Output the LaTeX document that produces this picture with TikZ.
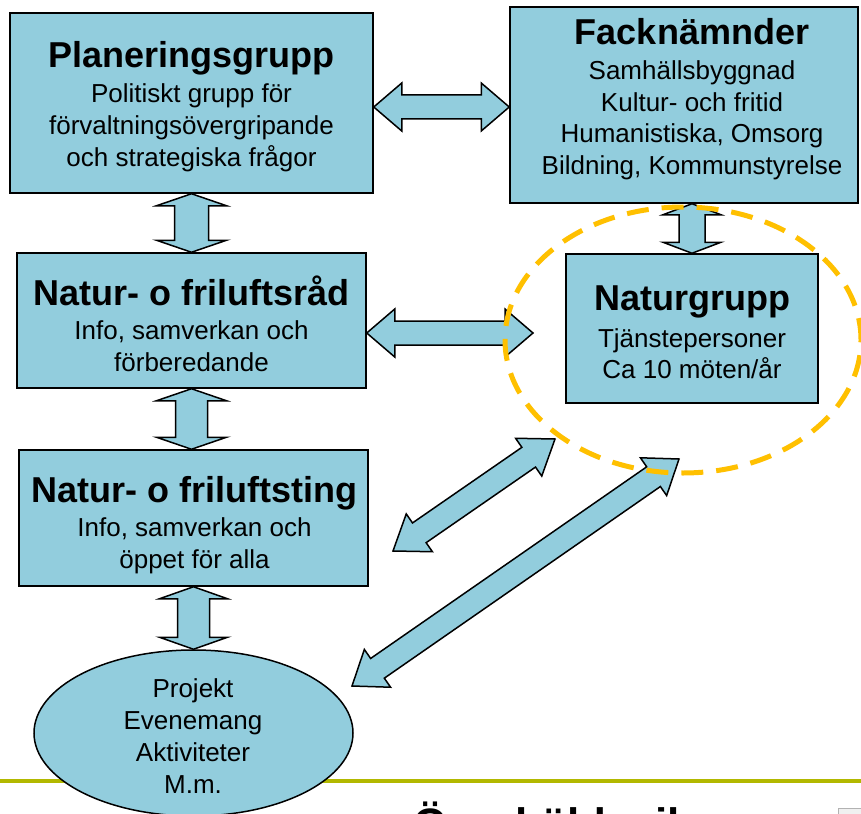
\documentclass[tikz,border=0pt]{standalone}
\usepackage{fontspec}
\setmainfont{Liberation Sans}
\usetikzlibrary{calc,shapes.geometric}
\definecolor{boxblue}{RGB}{146,205,221}
\definecolor{dashorange}{RGB}{255,192,0}
\definecolor{linegreen}{RGB}{178,184,0}
% #2 start, #3 end, #4 half head width, #5 half shaft width, #6 head length
\newcommand\blockarr[6][]{%
  \coordinate (ba1) at ($(#2)!#6!(#3)$);
  \coordinate (ba2) at ($(#3)!#6!(#2)$);
  \draw[barrow,#1] (#2) -- ($(ba1)!#4!90:(#3)$) -- ($(ba1)!#5!90:(#3)$)
    -- ($(ba2)!#5!-90:(#2)$) -- ($(ba2)!#4!-90:(#2)$) -- (#3)
    -- ($(ba2)!#4!90:(#2)$) -- ($(ba2)!#5!90:(#2)$)
    -- ($(ba1)!#5!-90:(#3)$) -- ($(ba1)!#4!-90:(#3)$) -- cycle;%
}
\begin{document}
\begin{tikzpicture}[x=1pt,y=-1pt,
  box/.style={draw=black, line width=1.5pt, fill=boxblue, inner sep=0pt, rectangle},
  ovalbox/.style={draw=black, line width=1.5pt, fill=boxblue, inner sep=0pt, ellipse},
  ttl/.style={font=\fontsize{36}{40}\selectfont\bfseries, anchor=base, inner sep=0pt},
  sub/.style={font=\fontsize{26}{32}\selectfont, anchor=base, inner sep=0pt},
  barrow/.style={draw=black, line width=1.5pt, fill=boxblue, line join=miter},
  dashring/.style={draw=dashorange, line width=5pt, dash pattern=on 22pt off 13pt, ellipse, inner sep=0pt}
]
\useasboundingbox (0,0) rectangle (861,813);
\begin{scope}
\clip (0,0) rectangle (861,813);
\fill[white] (0,0) rectangle (861,813);

% footer line and logo
\draw[linegreen, line width=4pt] (0,781) -- (861,781);
\node[anchor=base west, font=\fontsize{44}{44}\selectfont\bfseries, inner sep=0pt] (logo) at (413,839) {Örnsköldsvik};
\node[draw=gray!60, fill=gray!12, line width=1pt, minimum width=30pt, minimum height=20pt, anchor=north west] (icon) at (838,808) {};

% boxes
\node[box, minimum width=363pt, minimum height=180pt] (plan) at (191.5,103) {};
\node[box, minimum width=348pt, minimum height=196pt] (fack) at (684,105) {};
\node[box, minimum width=349pt, minimum height=135pt] (rad) at (191.5,320.5) {};
\node[box, minimum width=349pt, minimum height=136pt] (ting) at (193.5,518) {};
\node[box, minimum width=252pt, minimum height=149pt] (natur) at (692,328.5) {};
\node[ovalbox, minimum width=319pt, minimum height=166pt] (proj) at (193.5,733) {};

% texts
\node[ttl] (planT) at (191.5,68) {Planeringsgrupp};
\node[sub] (planA) at (191.5,103) {Politiskt grupp för};
\node[sub] (planB) at (191.5,135) {förvaltningsövergripande};
\node[sub] (planC) at (191.5,167) {och strategiska frågor};

\node[ttl] (fackT) at (692,45) {Facknämnder};
\node[sub] (fackA) at (692,80) {Samhällsbyggnad};
\node[sub] (fackB) at (692,112) {Kultur- och fritid};
\node[sub] (fackC) at (692,143) {Humanistiska, Omsorg};
\node[sub] (fackD) at (692,175) {Bildning, Kommunstyrelse};

\node[ttl] (radT) at (191.5,305) {Natur- o friluftsråd};
\node[sub] (radA) at (191.5,339) {Info, samverkan och};
\node[sub] (radB) at (191.5,371) {förberedande};

\node[ttl] (tingT) at (194.5,502) {Natur- o friluftsting};
\node[sub] (tingA) at (194.5,536) {Info, samverkan och};
\node[sub] (tingB) at (194.5,568) {öppet för alla};

\node[ttl] (naturT) at (692,310) {Naturgrupp};
\node[sub] (naturA) at (692,347) {Tjänstepersoner};
\node[sub] (naturB) at (692,378) {Ca 10 möten/år};

\node[sub] (projA) at (193,697) {Projekt};
\node[sub] (projB) at (193,729) {Evenemang};
\node[sub] (projC) at (193,761) {Aktiviteter};
\node[sub] (projD) at (193,793) {M.m.};

% connector end points
\coordinate (h1a) at (plan.east |- 0,107);
\coordinate (h1b) at (fack.west |- 0,107);
\coordinate (m2b) at (533,333);
\coordinate (m2a) at (rad.east |- m2b);
\coordinate (v2b) at (rad.south |- ting.north);
\coordinate (v3a) at (ting.south -| proj.north);
\coordinate (v4a) at (natur.north |- fack.south);
\coordinate (d1a) at (393,551);
\coordinate (d1b) at (555,439);
\coordinate (d2a) at (352,686);
\coordinate (d2b) at (679,459);

% block arrows
\blockarr{plan.south}{rad.north}{35pt}{17pt}{12pt}
\blockarr{rad.south}{v2b}{35pt}{16pt}{12pt}
\blockarr{v3a}{proj.north}{34pt}{16pt}{12pt}
\blockarr{v4a}{natur.north}{29pt}{13pt}{11pt}
\blockarr{h1a}{h1b}{24pt}{12pt}{28pt}
\blockarr{m2a}{m2b}{24pt}{12pt}{28pt}
\blockarr{d1a}{d1b}{23pt}{12pt}{32pt}
\blockarr{d2a}{d2b}{23pt}{12pt}{31pt}

% dashed ring round the Naturgrupp
\node[dashring, minimum width=356pt, minimum height=266pt] (ring) at (683,340) {};
\end{scope}
\end{tikzpicture}
\end{document}
